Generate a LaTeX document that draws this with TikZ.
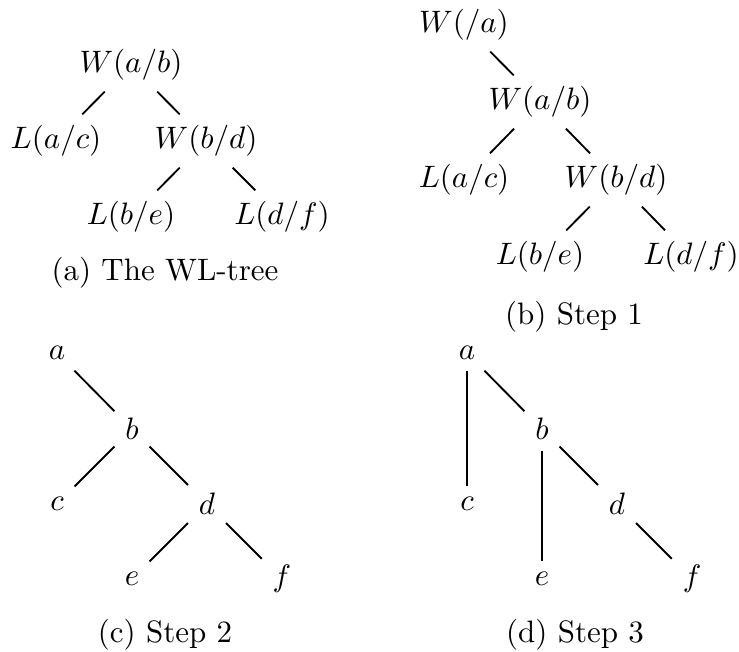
\documentclass[tikz,border=0pt]{standalone}
\begin{document}
\begin{tikzpicture}[x=0.3226pt,y=-0.3226pt,
  lbl/.style={inner xsep=3.33pt,inner ysep=3.33pt},
  wl/.style={inner xsep=3.33pt,inner ysep=3.4pt},
  captext/.style={inner sep=0pt},
  edgeline/.style={line width=0.6pt}]
\useasboundingbox (0,0) rectangle (739,651);
% (a)
\node[wl] (aR) at (131,65) {$W(a/b)$};
\node[wl] (aL) at (56,141) {$L(a/c)$};
\node[wl] (aW) at (206,141) {$W(b/d)$};
\node[wl] (aLe) at (131,217) {$L(b/e)$};
\node[wl] (aLf) at (282,217) {$L(d/f)$};
\draw[edgeline] (aR) -- (aL);
\draw[edgeline] (aR) -- (aW);
\draw[edgeline] (aW) -- (aLe);
\draw[edgeline] (aW) -- (aLf);
\node[captext] (capa) at (165,273) {(a) The WL-tree};
% (b)
\node[wl] (bT) at (464,25) {$W(/a)$};
\node[wl] (bR) at (540,102) {$W(a/b)$};
\node[wl] (bL) at (464,180) {$L(a/c)$};
\node[wl] (bW) at (616,180) {$W(b/d)$};
\node[wl] (bLe) at (540,257) {$L(b/e)$};
\node[wl] (bLf) at (691,257) {$L(d/f)$};
\draw[edgeline] (bT) -- (bR);
\draw[edgeline] (bR) -- (bL);
\draw[edgeline] (bR) -- (bW);
\draw[edgeline] (bW) -- (bLe);
\draw[edgeline] (bW) -- (bLf);
\node[captext] (capb) at (574,317) {(b) Step 1};
% (c)
\node[lbl] (ca) at (57,353) {$a$};
\node[lbl] (cb) at (132,429) {$b$};
\node[lbl] (cc) at (57,504) {$c$};
\node[lbl] (cd) at (207,504) {$d$};
\node[lbl] (ce) at (132,579) {$e$};
\node[lbl] (cf) at (282,579) {$f$};
\draw[edgeline] (ca) -- (cb);
\draw[edgeline] (cb) -- (cc);
\draw[edgeline] (cb) -- (cd);
\draw[edgeline] (cd) -- (ce);
\draw[edgeline] (cd) -- (cf);
\node[captext] (capc) at (165,635) {(c) Step 2};
% (d)
\node[lbl] (da) at (467,353) {$a$};
\node[lbl] (db) at (542,429) {$b$};
\node[lbl] (dc) at (467,504) {$c$};
\node[lbl] (dd) at (617,504) {$d$};
\node[lbl] (de) at (542,579) {$e$};
\node[lbl] (df) at (692,579) {$f$};
\draw[edgeline] (da) -- (db);
\draw[edgeline] (da) -- (dc);
\draw[edgeline] (db) -- (de);
\draw[edgeline] (db) -- (dd);
\draw[edgeline] (dd) -- (df);
\node[captext] (capd) at (575,635) {(d) Step 3};
\end{tikzpicture}
\end{document}
